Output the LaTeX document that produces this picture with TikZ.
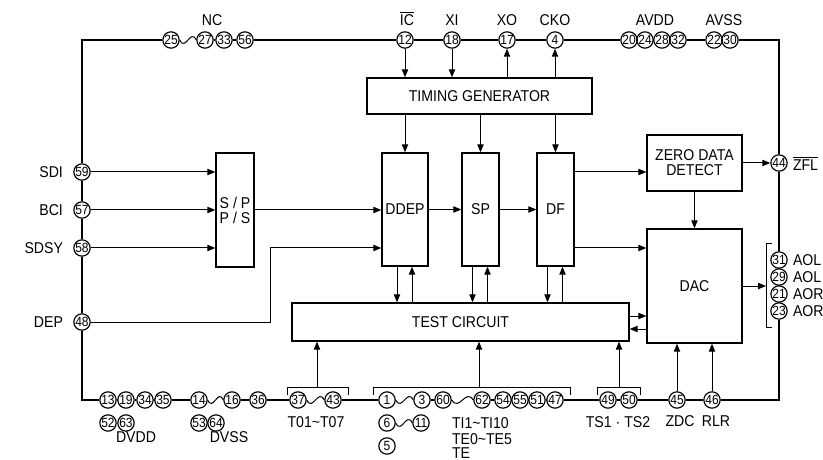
\documentclass[tikz,border=0pt]{standalone}
\usepackage{fontspec}
\setmainfont[FakeStretch=0.9]{Liberation Sans}
\usetikzlibrary{arrows.meta,positioning,calc}

\begin{document}
\begin{tikzpicture}[x=0.6pt,y=0.6pt,
    blk/.style={draw,line width=0.8pt,inner sep=0pt,align=center,font=\fontsize{9.4}{9}\selectfont},
    pad/.style={draw,circle,line width=0.7pt,fill=white,inner sep=0pt,minimum size=9.8pt,font=\fontsize{8}{8}\selectfont},
    lbl/.style={inner sep=1pt,font=\fontsize{9.4}{9}\selectfont},
    sig/.style={line width=0.6pt,-{Triangle[length=4.8pt,width=3.8pt]}},
    frame/.style={line width=1.2pt},
    wave/.style={line width=0.6pt,to path={.. controls ($(\tikztostart)!.35!(\tikztotarget)+(0,-12)$) and ($(\tikztostart)!.65!(\tikztotarget)+(0,12)$) .. (\tikztotarget)}}]
\useasboundingbox (0,0) rectangle (823,-460);

% blocks
\node[blk,minimum width=135pt,minimum height=21.6pt] (tg) at (479.5,-96) {TIMING GENERATOR};
\node[blk,minimum width=22.8pt,minimum height=68.4pt] (conv) at (235,-210) {S / P\\P / S};
\node[blk,minimum width=27.6pt,minimum height=67.8pt] (ddep) at (405,-209.5) {DDEP};
\node[blk,minimum width=22.2pt,minimum height=67.8pt] (sp) at (480.5,-209.5) {SP};
\node[blk,minimum width=22.2pt,minimum height=67.8pt] (df) at (555.5,-209.5) {DF};
\node[blk,minimum width=57pt,minimum height=33.6pt] (zdd) at (694.5,-163) {ZERO DATA\\DETECT};
\node[blk,minimum width=57pt,minimum height=68.4pt] (dac) at (694.5,-286) {DAC};
\node[blk,minimum width=202.2pt,minimum height=22.8pt] (tc) at (460.5,-322) {TEST CIRCUIT};

% pins
\foreach \n/\x in {25/171,27/205,33/224,56/245,12/405,18/452,17/507,4/555,20/629,24/645,28/662,32/678,22/714,30/730}
    \node[pad] (p\n) at (\x,-40) {\n};
\foreach \n/\y in {59/172,57/210,58/248,48/322}
    \node[pad] (p\n) at (82,-\y) {\n};
\foreach \n/\y in {44/163,31/260,29/277,21/294,23/311}
    \node[pad] (p\n) at (779,-\y) {\n};
\foreach \n/\x in {13/108,19/126,34/145,35/163,14/199,16/232,36/258,37/298,43/333,1/387,3/422,60/443,62/482,54/503,55/520,51/537,47/555,49/608,50/629,45/677,46/712}
    \node[pad] (p\n) at (\x,-400) {\n};
\foreach \n/\x in {52/108,63/126,53/199,64/216,6/387,11/421}
    \node[pad] (p\n) at (\x,-423) {\n};
\node[pad] (p5) at (387,-446) {5};

% frame
\coordinate (tl) at (82,-40);
\coordinate (tr) at (779,-40);
\coordinate (br) at (779,-400);
\coordinate (bl) at (82,-400);
\draw[frame] (p27) -- (p33) -- (p56) -- (p12) -- (p18) -- (p17) -- (p4) -- (p20) -- (p24) -- (p28) -- (p32) -- (p22) -- (p30);
\draw[frame] (p30) -- (tr) -- (p44) -- (p31) -- (p29) -- (p21) -- (p23) -- (br) -- (p46) -- (p45) -- (p50) -- (p49) -- (p47) -- (p51) -- (p55) -- (p54) -- (p62);
\draw[frame] (p60) -- (p3);
\draw[frame] (p1) -- (p43);
\draw[frame] (p37) -- (p36) -- (p16);
\draw[frame] (p14) -- (p35) -- (p34) -- (p19) -- (p13) -- (bl) -- (p48) -- (p58) -- (p57) -- (p59) -- (tl) -- (p25);
\draw[wave] (p25.east) to (p27.west);
\draw[wave] (p14.east) to (p16.west);
\draw[wave] (p37.east) to (p43.west);
\draw[wave] (p1.east) to (p3.west);
\draw[wave] (p60.east) to (p62.west);
\draw[wave] (p6.east) to (p11.west);

% pin names
\node[lbl,anchor=base] (nc) at (212,-25.5) {NC};
\node[lbl,anchor=base] (ic) at (407,-25.5) {$\overline{\mbox{IC}}$};
\node[lbl,anchor=base] (xi) at (452,-25.5) {XI};
\node[lbl,anchor=base] (xo) at (507,-25.5) {XO};
\node[lbl,anchor=base] (cko) at (555,-25.5) {CKO};
\node[lbl,anchor=base] (avdd) at (655,-25.5) {AVDD};
\node[lbl,anchor=base] (avss) at (724,-25.5) {AVSS};
\node[lbl,left=5pt of p59] (sdi) {SDI};
\node[lbl,left=5pt of p57] (bci) {BCI};
\node[lbl,left=5pt of p58] (sdsy) {SDSY};
\node[lbl,left=5pt of p48] (dep) {DEP};
\node[lbl,anchor=west] (zflg) at (791,-163) {$\overline{\mbox{ZFL}}$};
\node[lbl,anchor=west] (aol1) at (791,-260) {AOL};
\node[lbl,anchor=west] (aol2) at (791,-277) {AOL};
\node[lbl,anchor=west] (aor1) at (791,-294) {AOR};
\node[lbl,anchor=west] (aor2) at (791,-311) {AOR};
\node[lbl] (dvdd) at (136,-437) {DVDD};
\node[lbl] (dvss) at (229,-437) {DVSS};
\node[lbl] (tout) at (316,-422) {T01\textasciitilde T07};
\node[lbl,anchor=west] (tin) at (450,-423) {TI1\textasciitilde TI10};
\node[lbl,anchor=west] (tex) at (450,-439) {TE0\textasciitilde TE5};
\node[lbl,anchor=west] (te) at (450,-453) {TE};
\node[lbl] (ts) at (618,-422) {TS1 · TS2};
\node[lbl] (zdc) at (680,-421) {ZDC};
\node[lbl] (rlr) at (716,-421) {RLR};

% clock and control
\draw[sig] (p12) -- (p12 |- tg.north);
\draw[sig] (p18) -- (p18 |- tg.north);
\draw[sig] (p17 |- tg.north) -- (p17);
\draw[sig] (p4 |- tg.north) -- (p4);
\foreach \b in {ddep,sp,df}
    \draw[sig] (\b.north |- tg.south) -- (\b.north);

% data path
\draw[sig] (p59) -- (p59 -| conv.west);
\draw[sig] (p57) -- (p57 -| conv.west);
\draw[sig] (p58) -- (p58 -| conv.west);
\draw[sig] (conv.east) -- (conv.east -| ddep.west);
\coordinate (bend) at (270,-248);
\draw[sig] (p48) -| (bend) -- (bend -| ddep.west);
\draw[sig] (ddep.east) -- (ddep.east -| sp.west);
\draw[sig] (sp.east) -- (sp.east -| df.west);
\draw[sig] (df.east |- p59) -- (p59 -| zdd.west);
\draw[sig] (df.east |- p58) -- (p58 -| dac.west);
\draw[sig] (zdd.east) -- (p44);
\draw[sig] (zdd.south) -- (dac.north);
\coordinate (brk) at (766,-286);
\draw[sig] (dac.east |- brk) -- (brk);
\draw[line width=0.6pt] (772,-244) -| (brk) |- (772,-327);

% test circuit
\foreach \b in {ddep,sp,df} {
    \draw[sig] ([xshift=-4.8pt]\b.south) -- ([xshift=-4.8pt]\b.south |- tc.north);
    \draw[sig] ([xshift=4.2pt]\b.south |- tc.north) -- ([xshift=4.2pt]\b.south);
}
\draw[sig] ([yshift=3.6pt]tc.east) -- ([yshift=3.6pt]tc.east -| dac.west);
\draw[sig] ([yshift=-4.2pt]tc.east -| dac.west) -- ([yshift=-4.2pt]tc.east);
\coordinate (t1) at (317,-387);
\coordinate (t2) at (479,-387);
\coordinate (t3) at (619,-387);
\draw[line width=0.6pt] (287,-395) |- (348,-387) -- (348,-395);
\draw[line width=0.6pt] (373,-395) |- (570,-387) -- (570,-395);
\draw[line width=0.6pt] (597,-395) |- (640,-387) -- (640,-395);
\foreach \t in {t1,t2,t3}
    \draw[sig] (\t) -- (\t |- tc.south);
\draw[sig] (p45) -- (p45 |- dac.south);
\draw[sig] (p46) -- (p46 |- dac.south);
\end{tikzpicture}
\end{document}
